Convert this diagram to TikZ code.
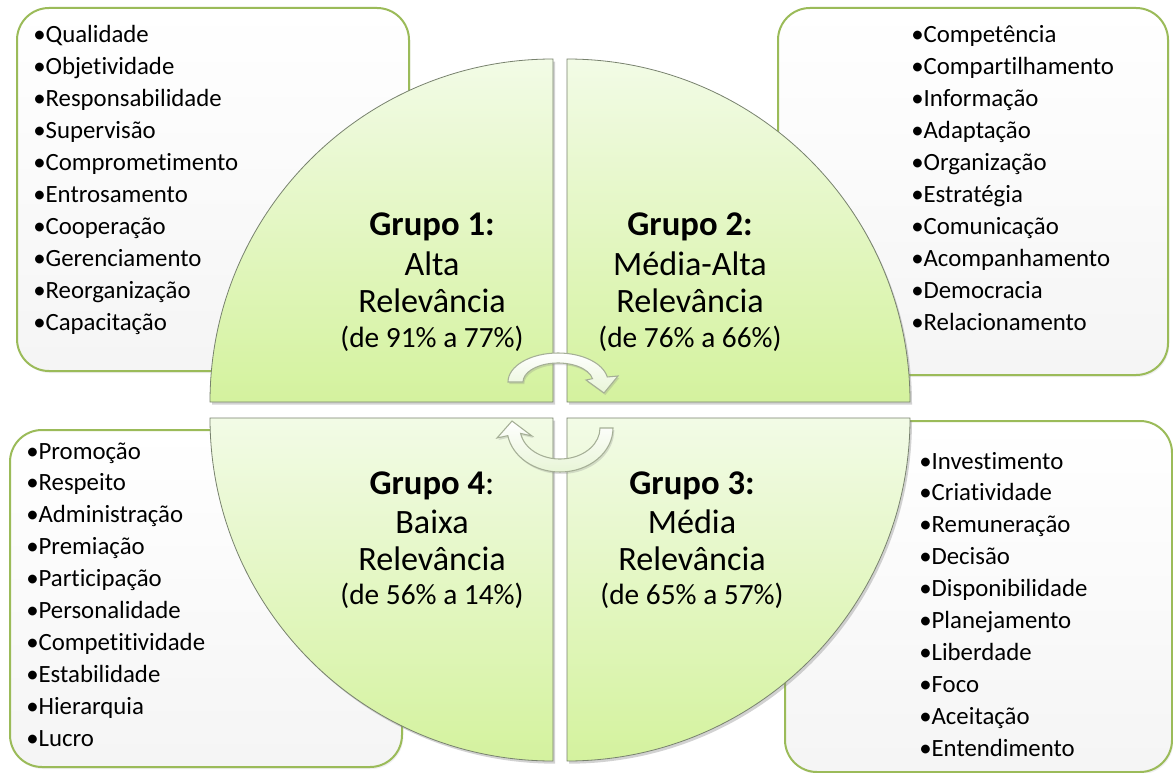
\documentclass[tikz,border=0pt]{standalone}
\usepackage{fontspec}
\setmainfont{Carlito}[Ligatures={NoCommon}]
\usetikzlibrary{shadows}
\definecolor{boxgreen}{RGB}{155,187,89}
\definecolor{qtop}{RGB}{242,251,230}
\definecolor{qbot}{RGB}{212,242,158}
\definecolor{qline}{RGB}{120,130,110}
\definecolor{arrline}{RGB}{165,175,150}
\definecolor{arrfill}{RGB}{232,245,215}
\begin{document}
\begin{tikzpicture}[x=0.75pt,y=-0.75pt,
  listbox/.style={draw=boxgreen, line width=1.5pt, rounded corners=24pt,
    top color=white, bottom color=black!4,
    drop shadow={opacity=0.12, shadow xshift=1pt, shadow yshift=-1.5pt}},
  quad/.style={draw=qline, line width=0.6pt, top color=qtop, bottom color=qbot,
    drop shadow={opacity=0.35, shadow xshift=1.5pt, shadow yshift=-2pt}},
  turn/.style={draw=arrline, line width=0.8pt, top color=white, bottom color=arrfill,
    drop shadow={opacity=0.25, shadow xshift=1pt, shadow yshift=-1.5pt}},
  item/.style={anchor=base west, inner sep=0pt, font=\fontsize{18.6}{24}\selectfont},
  head/.style={anchor=base, inner sep=0pt, font=\fontsize{26}{30}\selectfont\bfseries},
  headn/.style={anchor=base, inner sep=0pt, font=\fontsize{26}{30}\selectfont},
  sub/.style={anchor=base, inner sep=0pt, font=\fontsize{25.6}{30}\selectfont},
  pct/.style={anchor=base, inner sep=0pt, font=\fontsize{22}{26}\selectfont}]

% canvas
\useasboundingbox (0,0) rectangle (1173,773);
\fill[white] (0,0) rectangle (1173,773);

% the four lists
\path[listbox] (17,8) rectangle (409,371);
\path[listbox] (778,8) rectangle (1168,375);
\path[listbox] (10,430) rectangle (402,767);
\path[listbox] (785,421) rectangle (1172,772);

% the four quadrants of the circle
\path[quad] (553,402) -- (210,402) arc[start angle=180, end angle=270, radius=343] -- cycle;
\path[quad] (567,402) -- (567,59) arc[start angle=270, end angle=360, radius=343] -- cycle;
\path[quad] (567,418) -- (910,418) arc[start angle=0, end angle=90, radius=343] -- cycle;
\path[quad] (553,418) -- (553,761) arc[start angle=90, end angle=180, radius=343] -- cycle;

% circular arrows in the middle
\path[turn] (508,382) arc[start angle=180, end angle=350, x radius=50, y radius=29]
  -- (618,376) -- (604,393) -- (586,380) -- (592.5,378.7)
  arc[start angle=350, end angle=180, x radius=35, y radius=19] -- cycle;
\path[turn] (613,428) arc[start angle=0, end angle=170, x radius=53, y radius=44]
  -- (497,438) -- (512,421) -- (532,436) -- (520.6,433.4)
  arc[start angle=170, end angle=0, x radius=40, y radius=31] -- cycle;

% group labels
\node[head] (g1h) at (432,236) {Grupo 1:};
\node[sub]  (g1a) at (432,276) {Alta};
\node[sub]  (g1b) at (432,312) {Relevância};
\node[pct]  (g1c) at (432,347) {(de 91\% a 77\%)};

\node[head] (g2h) at (690,236) {Grupo 2:};
\node[sub]  (g2a) at (690,276) {Média-Alta};
\node[sub]  (g2b) at (690,312) {Relevância};
\node[pct]  (g2c) at (690,347) {(de 76\% a 66\%)};

\node[headn] (g4h) at (432,494) {{\bfseries Grupo 4}:};
\node[sub]  (g4a) at (432,533) {Baixa};
\node[sub]  (g4b) at (432,570) {Relevância};
\node[pct]  (g4c) at (432,604) {(de 56\% a 14\%)};

\node[head] (g3h) at (692,494) {Grupo 3:};
\node[sub]  (g3a) at (692,533) {Média};
\node[sub]  (g3b) at (692,570) {Relevância};
\node[pct]  (g3c) at (692,604) {(de 65\% a 57\%)};

% list items
\foreach \w [count=\i from 0] in {Qualidade,Objetividade,Responsabilidade,Supervisão,Comprometimento,Entrosamento,Cooperação,Gerenciamento,Reorganização,Capacitação}
  \node[item] (tl\i) at (33,{43+31.9*\i}) {•\w};
\foreach \w [count=\i from 0] in {Competência,Compartilhamento,Informação,Adaptação,Organização,Estratégia,Comunicação,Acompanhamento,Democracia,Relacionamento}
  \node[item] (tr\i) at (911,{43+31.9*\i}) {•\w};
\foreach \w [count=\i from 0] in {Promoção,Respeito,Administração,Premiação,Participação,Personalidade,Competitividade,Estabilidade,Hierarquia,Lucro}
  \node[item] (bl\i) at (26,{459+31.9*\i}) {•\w};
\foreach \w [count=\i from 0] in {Investimento,Criatividade,Remuneração,Decisão,Disponibilidade,Planejamento,Liberdade,Foco,Aceitação,Entendimento}
  \node[item] (br\i) at (919,{469+31.9*\i}) {•\w};
\end{tikzpicture}
\end{document}
